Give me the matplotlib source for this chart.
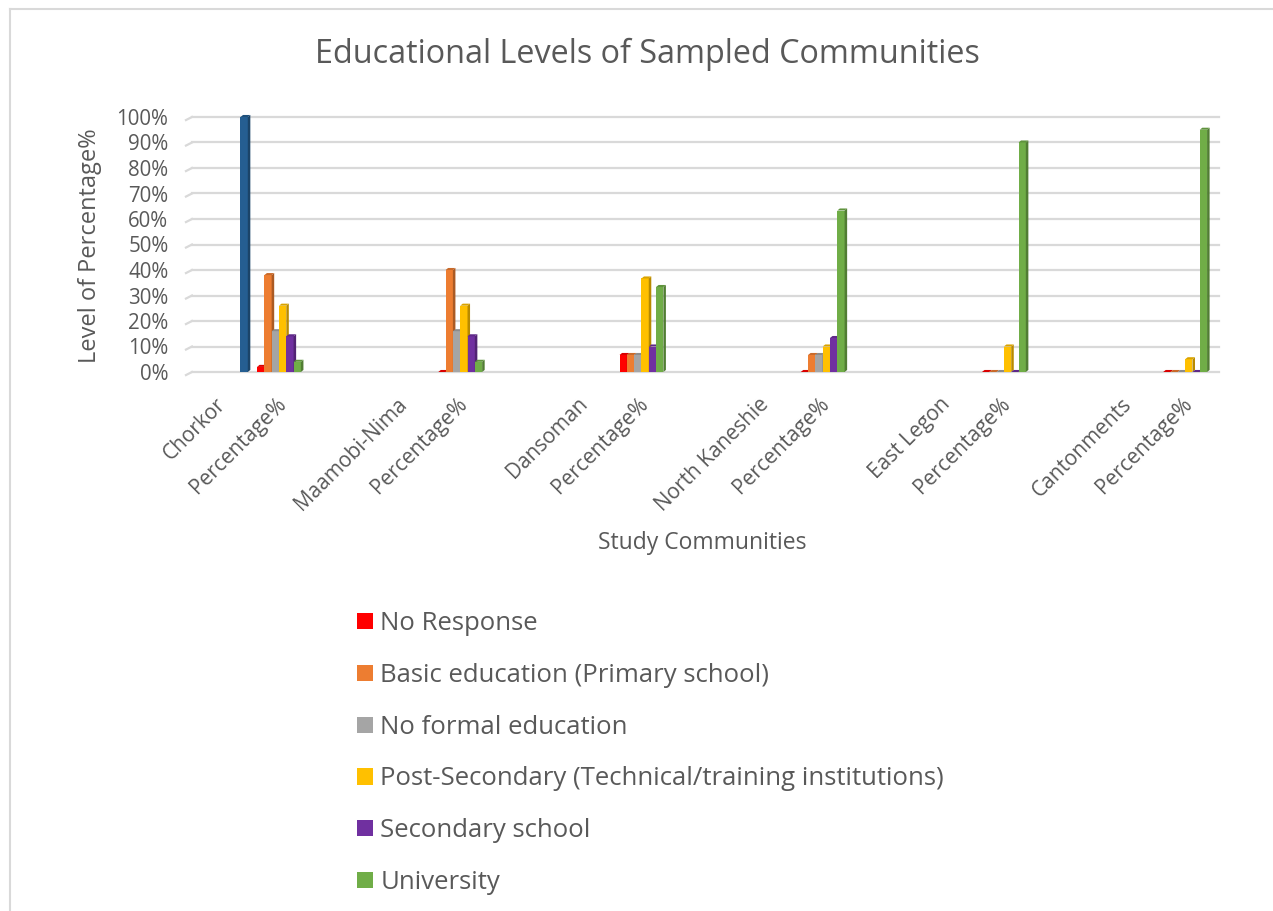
import numpy as np
import matplotlib.pyplot as plt
from matplotlib.patches import Polygon, Patch
from matplotlib.lines import Line2D
from matplotlib.colors import to_rgb

plt.rcParams['font.family'] = ['Open Sans', 'DejaVu Sans']

TEXT = '#595959'
GRID = '#D9D9D9'

communities = ['Chorkor', 'Maamobi-Nima', 'Dansoman', 'North Kaneshie',
               'East Legon', 'Cantonments']

# share of respondents per education level (%), one value per community
no_response = [2, 0, 6.67, 0, 0, 0]
basic_edu   = [38, 40, 6.67, 6.67, 0, 0]
no_formal   = [16, 16, 6.67, 6.67, 0, 0]
post_sec    = [26, 26, 36.67, 10, 10, 5]
secondary   = [14, 14, 10, 13.33, 0, 0]
university  = [4, 4, 33.33, 63.33, 90, 95]

# extra column series, only filled for the first community
sample_col = [100, None, None, None, None, None]

SERIES = [
    ('No Response',                                     no_response, '#FF0000'),
    ('Basic education (Primary school)',                basic_edu,   '#ED7D31'),
    ('No formal education',                             no_formal,   '#A5A5A5'),
    ('Post-Secondary (Technical/training institutions)', post_sec,   '#FFC000'),
    ('Secondary school',                                secondary,   '#7030A0'),
    ('University',                                      university,  '#70AD47'),
]
SAMPLE_COLOR = '#255E91'

# category axis: community, its percentage column, then an empty column
cat_labels = []
for name in communities:
    cat_labels += [name, 'Percentage%', '']
cat_labels = cat_labels[:-1]
n_cat = len(cat_labels)
count_pos = np.arange(len(communities)) * 3
pct_pos = count_pos + 1

BAR_W = 0.121
N_SLOTS = 7
DX, DY = 0.042, 0.8   # fake depth of the 3D columns


def shade(color, f):
    r, g, b = to_rgb(color)
    return (r * f, g * f, b * f)


def column3d(ax, xs, heights, color):
    xs = np.asarray(xs, float)
    heights = np.asarray(heights, float)
    ax.bar(xs, heights, width=BAR_W, color=color, linewidth=0, zorder=3,
           clip_on=False)
    for x, h in zip(xs, heights):
        r = x + BAR_W / 2
        l = x - BAR_W / 2
        ax.add_patch(Polygon([(r, 0), (r + DX, DY), (r + DX, h + DY), (r, h)],
                             closed=True, fc=shade(color, 0.72), lw=0,
                             zorder=3, clip_on=False))
        ax.add_patch(Polygon([(l, h), (r, h), (r + DX, h + DY), (l + DX, h + DY)],
                             closed=True, fc=shade(color, 0.85), lw=0,
                             zorder=3, clip_on=False))


fig = plt.figure(figsize=(12.73, 9.11), dpi=100)
ax = fig.add_axes([192 / 1273, 1 - 372 / 911, 1027 / 1273, 255 / 911])
ax.set_xlim(-0.5, n_cat - 0.5)
ax.set_ylim(0, 100)

# back-wall gridlines with a short slanted side-wall stub
for v in range(0, 101, 10):
    ax.plot([-0.5, n_cat - 0.5], [v, v], color=GRID, lw=1.6, zorder=1,
            clip_on=False)
    ax.plot([-0.6, -0.5], [v - 1.2, v], color=GRID, lw=1.6, zorder=1,
            clip_on=False)

for i, (label, vals, color) in enumerate(SERIES):
    off = (i - (N_SLOTS - 1) / 2) * BAR_W
    column3d(ax, pct_pos + off, vals, color)

off = (N_SLOTS - 1 - (N_SLOTS - 1) / 2) * BAR_W
xs = [p + off for p, v in zip(count_pos, sample_col) if v is not None]
hs = [v for v in sample_col if v is not None]
column3d(ax, xs, hs, SAMPLE_COLOR)

for s in ax.spines.values():
    s.set_visible(False)

ax.set_yticks(range(0, 101, 10))
ax.set_yticklabels([f'{v}%' for v in range(0, 101, 10)])
ax.tick_params(axis='y', length=0, pad=17, labelsize=14.8, labelcolor=TEXT)

ax.set_xticks(range(n_cat))
ax.set_xticklabels(cat_labels, rotation=45, ha='right', va='center',
                   rotation_mode='anchor')
ax.tick_params(axis='x', length=0, pad=21, labelsize=15, labelcolor=TEXT)

fig.text(0.5086, 1 - 54 / 911, 'Educational Levels of Sampled Communities',
         ha='center', va='center', fontsize=23.3, color=TEXT)
fig.text(90 / 1273, 1 - 246 / 911, 'Level of Percentage%', rotation=90,
         ha='center', va='center', fontsize=17, color=TEXT)
fig.text(702 / 1273, 1 - 543 / 911, 'Study Communities',
         ha='center', va='center', fontsize=16.5, color=TEXT)

handles = [Patch(fc=c, lw=0) for _, _, c in SERIES]
labels = [lab for lab, _, _ in SERIES]
fig.legend(handles, labels, loc='upper left',
           bbox_to_anchor=(347 / 1273, 1 - 601 / 911), frameon=False,
           fontsize=18.5, labelcolor=TEXT, handlelength=0.6, handleheight=0.6,
           handletextpad=0.3, labelspacing=1.04, borderaxespad=0)

# chart-area border (left and top edges fall inside the canvas)
fig.add_artist(Line2D([10 / 1273, 10 / 1273], [0, 1 - 9 / 911],
                      transform=fig.transFigure, color=GRID, lw=1.5))
fig.add_artist(Line2D([10 / 1273, 1], [1 - 9 / 911, 1 - 9 / 911],
                      transform=fig.transFigure, color=GRID, lw=1.5))

fig.savefig('out.png', dpi=100)
